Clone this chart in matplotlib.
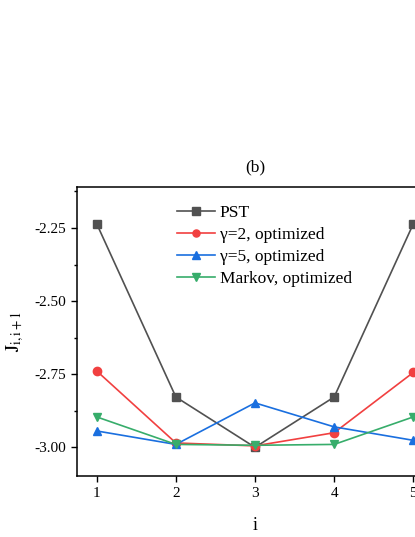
import matplotlib.pyplot as plt
from matplotlib.ticker import MultipleLocator

plt.rcParams["font.family"] = ["Liberation Serif", "DejaVu Serif"]
plt.rcParams["mathtext.fontset"] = "stix"

# data
sites = [1, 2, 3, 4, 5]
pst = [-2.236, -2.828, -3.0, -2.828, -2.236]
gamma2 = [-2.739, -2.985, -2.995, -2.95, -2.744]
gamma5 = [-2.944, -2.99, -2.848, -2.93, -2.976]
markov = [-2.896, -2.99, -2.993, -2.99, -2.896]

series = [
    (pst, "PST", "#515151", "s"),
    (gamma2, "γ=2, optimized", "#F14040", "o"),
    (gamma5, "γ=5, optimized", "#1A6FDF", "^"),
    (markov, "Markov, optimized", "#37AD6B", "v"),
]

fig = plt.figure(figsize=(4.15, 5.37), dpi=100)
ax = fig.add_axes([0.1855, 0.1136, 0.858, 0.538])

for vals, label, color, marker in series:
    ax.plot(sites, vals, color=color, marker=marker, markersize=6,
            linewidth=1.2, label=label)

ax.set_xlim(0.75, 5.25)
ax.set_ylim(-3.098, -2.11)
ax.set_xticks(sites)
ax.yaxis.set_major_locator(MultipleLocator(0.25))
ax.yaxis.set_minor_locator(MultipleLocator(0.125))
ax.yaxis.set_major_formatter(plt.FuncFormatter(lambda v, p: f"{v:.2f}"))

for s in ax.spines.values():
    s.set_linewidth(1.1)
ax.tick_params(which="major", length=4, width=1.0, labelsize=11, direction="out", pad=4)
ax.tick_params(which="minor", length=2.5, width=1.0, direction="out")

ax.set_xlabel("i", fontsize=13, labelpad=12)
ax.set_ylabel(r"$\mathrm{J_{i,i+1}}$", fontsize=14, labelpad=6)
ax.set_title("(b)", fontsize=12.5, pad=11)

ax.legend(loc="upper left", bbox_to_anchor=(0.26, 0.962), frameon=False,
          fontsize=12.5, handlelength=2.2, handletextpad=0.3, labelspacing=0.33,
          borderaxespad=0, markerscale=0.85)

fig.savefig("out.png", dpi=100)
